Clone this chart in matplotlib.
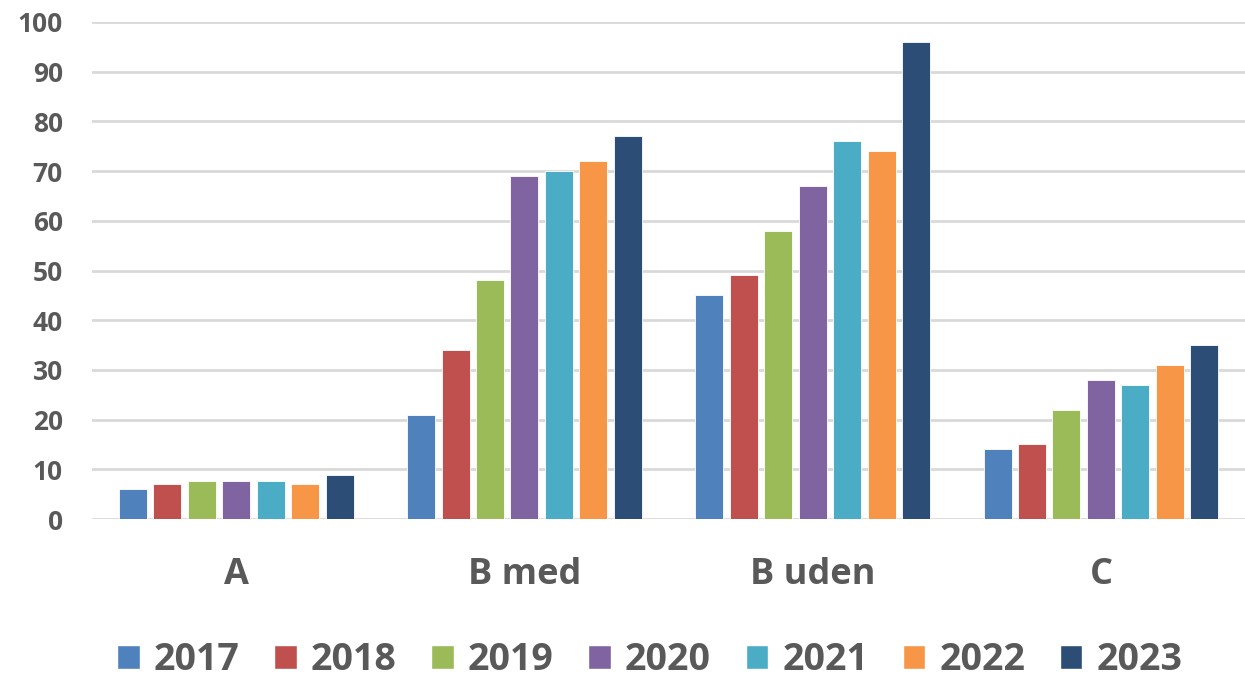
import matplotlib
matplotlib.use("Agg")
import matplotlib.pyplot as plt
import numpy as np
from matplotlib.patches import Patch

categories = ["A", "B med", "B uden", "C"]
years = ["2017", "2018", "2019", "2020", "2021", "2022", "2023"]
v2017 = [6, 21, 45, 14]
v2018 = [7, 34, 49, 15]
v2019 = [7.7, 48, 58, 22]
v2020 = [7.7, 69, 67, 28]
v2021 = [7.7, 70, 76, 27]
v2022 = [7, 72, 74, 31]
v2023 = [8.8, 77, 96, 35]
series = [v2017, v2018, v2019, v2020, v2021, v2022, v2023]
colors = ["#4F81BD", "#C0504D", "#9BBB59", "#8064A2", "#4BACC6", "#F79646", "#2C4D75"]

plt.rcParams['font.family'] = ['Open Sans', 'DejaVu Sans']
txt = "#595959"

fig = plt.figure(figsize=(12.45, 6.79), dpi=100)
ax = fig.add_axes([0.074, 0.2356, 0.926, 0.732])

x = np.arange(len(categories))
pitch = 0.1195
width = 0.097
for i, (vals, c) in enumerate(zip(series, colors)):
    ax.bar(x + (i - 3) * pitch, vals, width=width, color=c, edgecolor="white",
           linewidth=0.6, zorder=3, label=years[i])

ax.set_xlim(-0.5, 3.5)
ax.set_ylim(0, 100)
ax.set_yticks(range(0, 101, 10))
ax.yaxis.grid(True, color="#d9d9d9", linewidth=2, zorder=0)
ax.set_axisbelow(True)
for s in ["top", "right", "left", "bottom"]:
    ax.spines[s].set_visible(False)
ax.tick_params(axis="y", length=0, pad=21, labelsize=19, labelcolor=txt)
ax.tick_params(axis="x", length=0, pad=27, labelsize=26, labelcolor=txt)
ax.set_xticks(x)
ax.set_xticklabels(categories)
for lab in ax.get_yticklabels() + ax.get_xticklabels():
    lab.set_fontweight("bold")

handles = [Patch(facecolor=c, edgecolor="white") for c in colors]
leg = fig.legend(handles, years, loc="center", bbox_to_anchor=(0.522, 0.028),
                 ncol=7, frameon=False, handlelength=0.6, handleheight=0.6,
                 handletextpad=0.38, columnspacing=0.92,
                 prop={"weight": "bold", "size": 27})
for t in leg.get_texts():
    t.set_color(txt)

fig.savefig("out.png", dpi=100)
